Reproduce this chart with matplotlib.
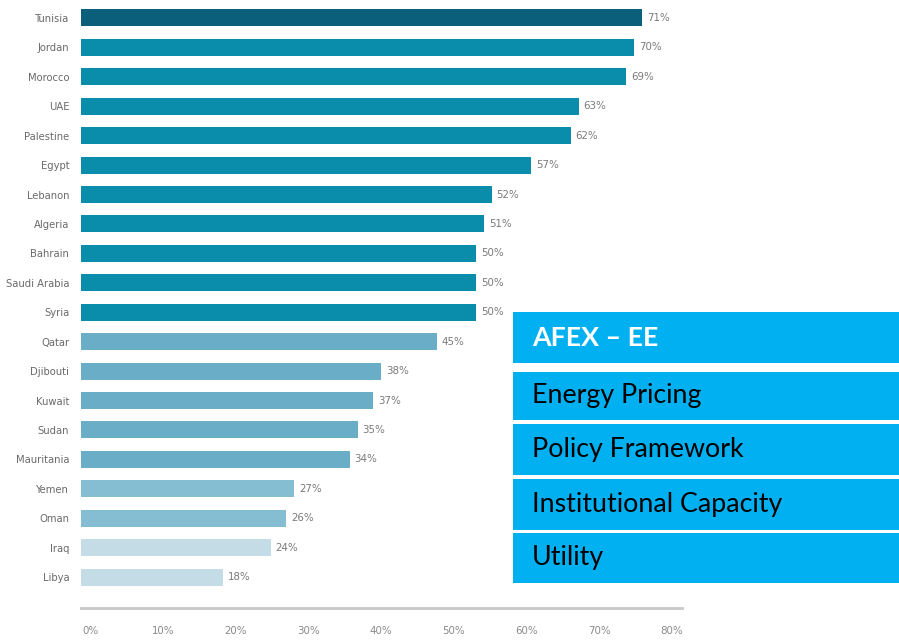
"""
AFEX - EE country scores, horizontal bars with overlay boxes
"""
import matplotlib
matplotlib.use('Agg')
import matplotlib.pyplot as plt
from matplotlib.patches import Rectangle

countries = ['Tunisia', 'Jordan', 'Morocco', 'UAE', 'Palestine', 'Egypt', 'Lebanon',
             'Algeria', 'Bahrain', 'Saudi Arabia', 'Syria', 'Qatar', 'Djibouti',
             'Kuwait', 'Sudan', 'Mauritania', 'Yemen', 'Oman', 'Iraq', 'Libya']
scores = [71, 70, 69, 63, 62, 57, 52, 51, 50, 50, 50, 45, 38, 37, 35, 34, 27, 26, 24, 18]
tick_values = [0, 10, 20, 30, 40, 50, 60, 70, 80]
box_items = ['AFEX – EE', 'Energy Pricing', 'Policy Framework',
             'Institutional Capacity', 'Utility']

small_font = dict(family='DejaVu Sans', fontstretch='condensed')


def bar_color(v, i):
    if i == 0:
        return '#0b5f7b'
    if v >= 50:
        return '#0a8cab'
    if v >= 30:
        return '#6aadc7'
    if v >= 26:
        return '#85bdd2'
    return '#c3dce6'


W, H = 899, 641
PX = 7.9  # pixels per percent for the bars
fig = plt.figure(figsize=(W / 100, H / 100), dpi=100)
ax = fig.add_axes([81 / W, 33 / H, 601 / W, 608 / H])

colors = [bar_color(v, i) for i, v in enumerate(scores)]
ypos = list(range(len(countries)))
ax.barh(ypos, scores, height=0.58, color=colors)

for y, v in zip(ypos, scores):
    ax.annotate(f'{v}%', (v, y), xytext=(3.5, 0), textcoords='offset points',
                va='center', ha='left', fontsize=8.2, color='#7a7a7a', **small_font)

ax.set_xlim(0, 601 / PX)
ax.set_ylim(len(countries) - 1 + 1.05, -0.61)
ax.set_yticks(ypos)
ax.set_yticklabels(countries, fontsize=8, color='#6a6a6a', **small_font)
ax.tick_params(axis='y', length=0, pad=8.5)
ax.set_xticks([])

for s in ['top', 'right', 'left']:
    ax.spines[s].set_visible(False)
ax.spines['bottom'].set_color('#c8c8c8')
ax.spines['bottom'].set_linewidth(2)

# printed axis labels (scale differs slightly from the bars in the source image)
sec = ax.secondary_xaxis('bottom', functions=(lambda v: (PX * v - 9) / 7.275,
                                               lambda t: (7.275 * t + 9) / PX))
sec.set_xticks(tick_values)
sec.set_xticklabels([f'{t}%' for t in tick_values], fontsize=8.2, color='#8a8a8a',
                    **small_font)
sec.tick_params(length=0, pad=13)
sec.spines['bottom'].set_visible(False)

# overlay boxes
box_rows = [(312, 363), (372, 420), (424, 475), (479, 530), (533, 583)]
for k, (label, (top, bot)) in enumerate(zip(box_items, box_rows)):
    fig.patches.append(Rectangle((513 / W, 1 - bot / H), (W - 513) / W, (bot - top) / H,
                                 transform=fig.transFigure, facecolor='#00b0f0',
                                 edgecolor='none', zorder=5))
    fig.text(532 / W, 1 - (top + bot) / 2 / H, label, va='center', ha='left',
             fontsize=19.3, family='Lato', zorder=6,
             color='white' if k == 0 else 'black',
             fontweight='bold' if k == 0 else 'normal')

fig.savefig('out.png', dpi=100, facecolor='white')
